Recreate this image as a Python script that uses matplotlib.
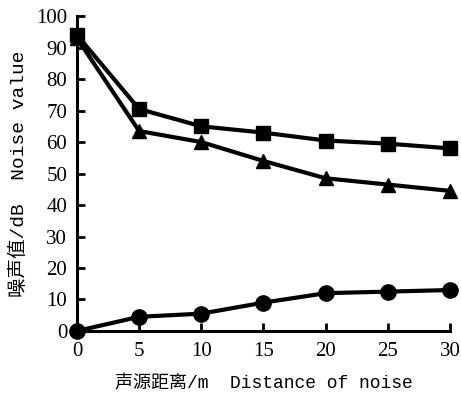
import matplotlib
matplotlib.use("Agg")
import matplotlib.pyplot as plt

distance = [0, 5, 10, 15, 20, 25, 30]
series_square = [94, 70.5, 65, 63, 60.5, 59.5, 58]
series_triangle = [93, 63.5, 60, 54, 48.5, 46.5, 44.5]
series_circle = [0, 4.5, 5.5, 9, 12, 12.5, 13]
xticks = [0, 5, 10, 15, 20, 25, 30]
yticks = [0, 10, 20, 30, 40, 50, 60, 70, 80, 90, 100]

fig = plt.figure(figsize=(4.61, 3.94), dpi=100)
ax = fig.add_axes([0.167, 0.16, 0.809, 0.799])

kw = dict(color="black", lw=3, clip_on=False, zorder=3)
ax.plot(distance, series_square, marker="s", ms=10.5, **kw)
ax.plot(distance, series_triangle, marker="^", ms=10.5, **kw)
ax.plot(distance, series_circle, marker="o", ms=11, **kw)

ax.set_xlim(0, 30)
ax.set_ylim(0, 100)
ax.set_xticks(xticks)
ax.set_yticks(yticks)
for s in ["top", "right"]:
    ax.spines[s].set_visible(False)
for s in ["left", "bottom"]:
    ax.spines[s].set_linewidth(2.2)
ax.tick_params(direction="in", width=2, length=6, labelsize=15)
ax.tick_params(axis="y", pad=7)
ax.tick_params(axis="x", pad=8)
for lab in ax.get_xticklabels() + ax.get_yticklabels():
    lab.set_family("Liberation Serif")

fam = ["Liberation Mono", "Noto Sans CJK SC"]
ax.set_xlabel("声源距离/m  Distance of noise", family=fam, fontsize=13, labelpad=10)
ax.set_ylabel("噪声值/dB  Noise value", family=fam, fontsize=14, labelpad=6)

fig.savefig("out.png", dpi=100)
